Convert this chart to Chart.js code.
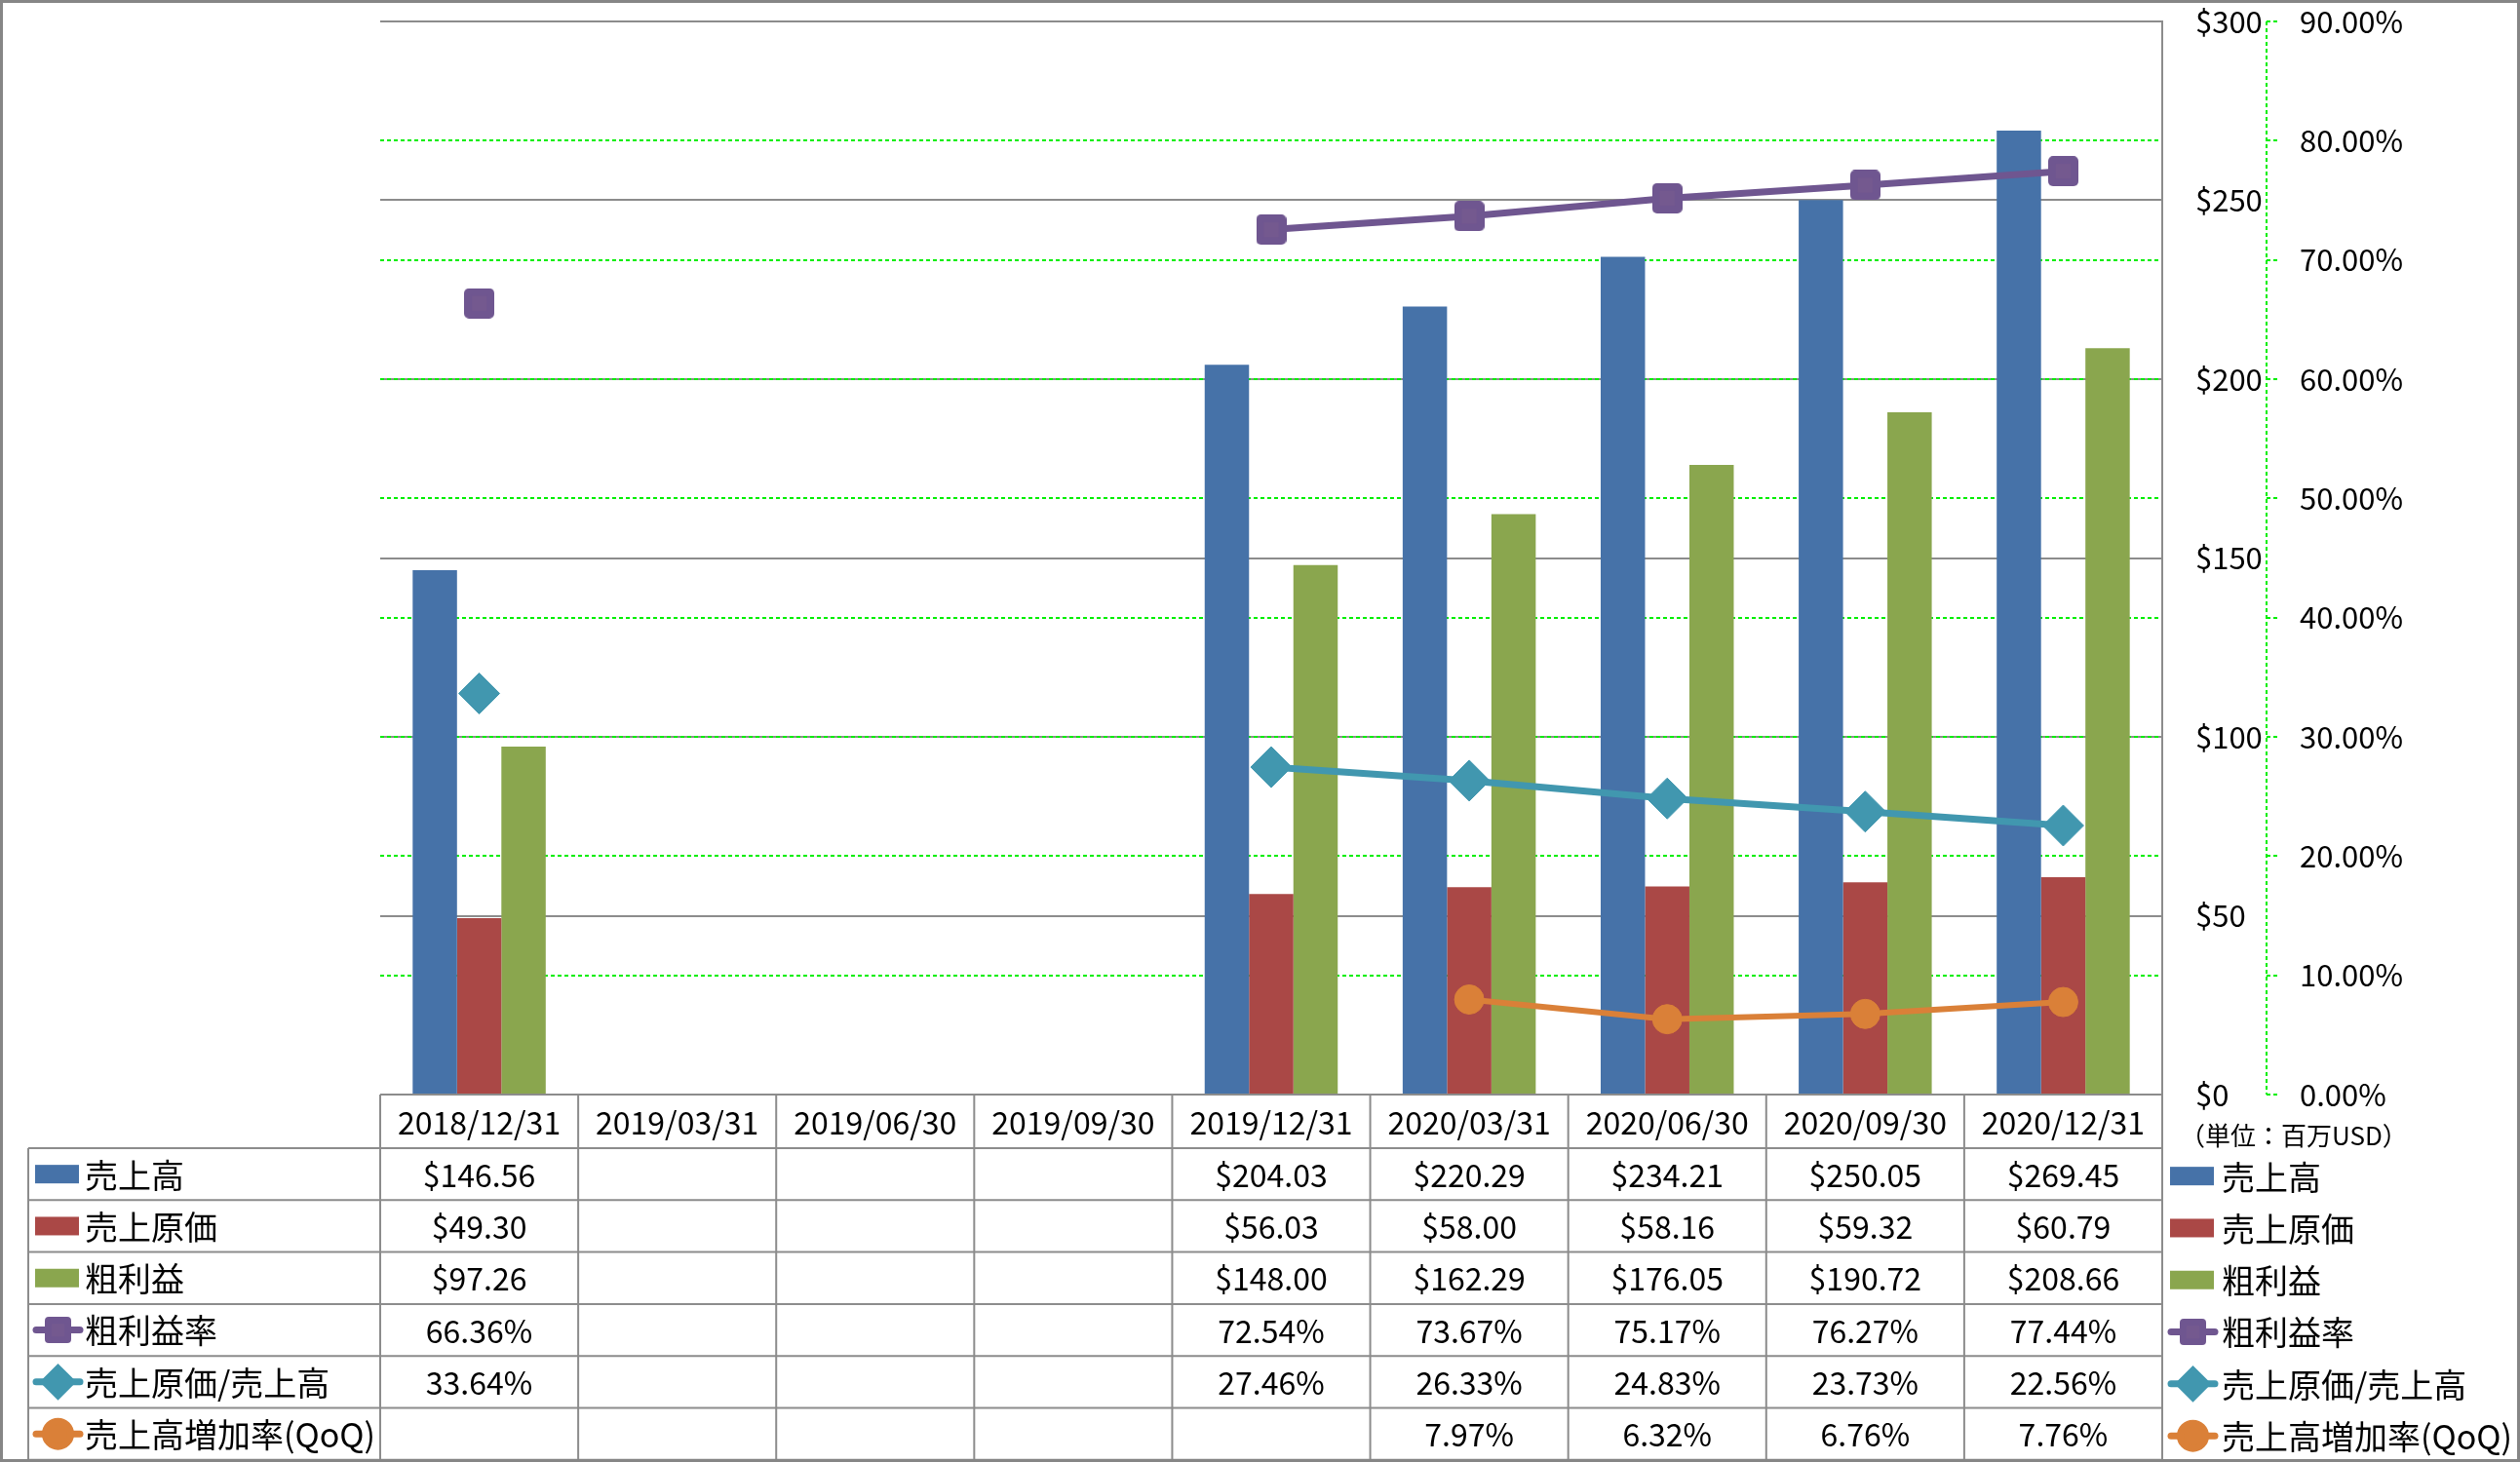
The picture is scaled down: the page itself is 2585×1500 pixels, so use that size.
<!DOCTYPE html>
<html>
<head>
<meta charset="utf-8">
<script src="https://cdn.jsdelivr.net/npm/chart.js@4/dist/chart.umd.min.js"></script>
<style>
html,body{margin:0;padding:0;background:#fff;}
#wrap{width:2585px;height:1500px;position:relative;}
</style>
</head>
<body>
<div id="wrap"><canvas id="c" width="2585" height="1500"></canvas></div>
<script>
// ---- data ----
const categories = ['2018/12/31','2019/03/31','2019/06/30','2019/09/30','2019/12/31','2020/03/31','2020/06/30','2020/09/30','2020/12/31'];
const sales       = [146.56, null, null, null, 204.03, 220.29, 234.21, 250.05, 269.45];
const cogs        = [49.30,  null, null, null, 56.03,  58.00,  58.16,  59.32,  60.79];
const grossProfit = [97.26,  null, null, null, 148.00, 162.29, 176.05, 190.72, 208.66];
const grossMargin = [66.36,  null, null, null, 72.54,  73.67,  75.17,  76.27,  77.44];
const cogsRatio   = [33.64,  null, null, null, 27.46,  26.33,  24.83,  23.73,  22.56];
const salesGrowth = [null,   null, null, null, null,   7.97,   6.32,   6.76,   7.76];
const seriesNames = ['売上高','売上原価','粗利益','粗利益率','売上原価/売上高','売上高増加率(QoQ)'];
const unitLabel = '（単位：百万USD）';
const dollarAxis = {min: 0, max: 300, step: 50};
const percentAxis = {min: 0, max: 90, step: 10};

// ---- styles ----
const FONT = '"Noto Sans CJK JP", "Noto Sans", sans-serif';
const C_BLUE = '#4672A8', C_RED = '#AA4846', C_GREEN = '#8AA64E';
const C_PURPLE = '#6F5690', C_TEAL = '#4197AF', C_ORANGE = '#DA8038';
const C_GRID = '#8c8c8c', C_LIME = '#00ee00';

function roundedSquare(size, radius, color, inner) {
  const cv = document.createElement('canvas');
  cv.width = size; cv.height = size;
  const g = cv.getContext('2d');
  g.fillStyle = color;
  g.beginPath();
  g.roundRect(0, 0, size, size, radius);
  g.fill();
  g.fillStyle = inner;
  const m = size * 0.25;
  g.fillRect(m, m, size - 2 * m, size - 2 * m);
  return cv;
}
const squareMarker = roundedSquare(31, 5, C_PURPLE, '#74598F');
const squareLegend = roundedSquare(27, 4, C_PURPLE, '#74598F');

const seriesStyles = [
  {kind:'bar', color:C_BLUE},
  {kind:'bar', color:C_RED},
  {kind:'bar', color:C_GREEN},
  {kind:'line', color:C_PURPLE, pointStyle:squareMarker, legendStyle:squareLegend, legendRadius:14},
  {kind:'line', color:C_TEAL, pointStyle:'rectRot', legendStyle:'rectRot', legendRadius:14},
  {kind:'line', color:C_ORANGE, pointStyle:'circle', legendStyle:'circle', legendRadius:13}
];
const seriesData = [sales, cogs, grossProfit, grossMargin, cogsRatio, salesGrowth];

function fmt(i, v) {
  if (v === null || v === undefined) return '';
  return i < 3 ? '$' + v.toFixed(2) : v.toFixed(2) + '%';
}

function drawKey(ctx, s, x0, y) {
  ctx.save();
  if (s.kind === 'bar') {
    ctx.fillStyle = s.color;
    ctx.fillRect(x0 + 2, y - 9.5, 45, 19);
  } else {
    ctx.strokeStyle = s.color;
    ctx.lineWidth = 7;
    ctx.lineCap = 'round';
    ctx.beginPath();
    ctx.moveTo(x0 + 3, y);
    ctx.lineTo(x0 + 48, y);
    ctx.stroke();
    ctx.fillStyle = s.color;
    ctx.strokeStyle = s.color;
    Chart.helpers.drawPoint(ctx, {pointStyle: s.legendStyle, radius: s.legendRadius, rotation: 0, borderWidth: 1}, x0 + 25.5, y);
  }
  ctx.restore();
}

const tablePlugin = {
  id: 'dataTable',
  afterDraw(chart) {
    const ctx = chart.ctx;
    const area = chart.chartArea;
    const xs = chart.scales.x;
    const n = categories.length;
    const catW = (area.right - area.left) / n;
    const top = area.bottom;
    const headerH = 55;
    const rowH = 53.3;
    const labelLeft = 29;
    const bottom = top + headerH + rowH * 6;

    ctx.save();
    ctx.strokeStyle = C_GRID;
    ctx.lineWidth = 2;
    ctx.beginPath();
    ctx.moveTo(area.left, top); ctx.lineTo(area.right, top);
    for (let r = 0; r <= 6; r++) {
      const y = top + headerH + r * rowH;
      ctx.moveTo(labelLeft, y); ctx.lineTo(area.right, y);
    }
    for (let i = 0; i <= n; i++) {
      const x = area.left + i * catW;
      ctx.moveTo(x, i === n ? area.top : top); ctx.lineTo(x, bottom);
    }
    ctx.moveTo(labelLeft, top + headerH); ctx.lineTo(labelLeft, bottom);
    ctx.stroke();

    // header
    ctx.fillStyle = '#000';
    ctx.textBaseline = 'middle';
    ctx.textAlign = 'center';
    ctx.font = '32px ' + FONT;
    categories.forEach((c, i) => {
      ctx.fillText(c, xs.getPixelForValue(i), top + headerH / 2 + 1);
    });
    // values
    seriesData.forEach((arr, si) => {
      const y = top + headerH + si * rowH + rowH / 2 + 1;
      arr.forEach((v, i) => {
        const t = fmt(si, v);
        if (t) ctx.fillText(t, xs.getPixelForValue(i), y);
      });
    });
    // row labels (left) and legend (right)
    ctx.textAlign = 'left';
    ctx.font = '34px ' + FONT;
    seriesNames.forEach((name, si) => {
      const y = top + headerH + si * rowH + rowH / 2;
      drawKey(ctx, seriesStyles[si], 34, y);
      ctx.fillStyle = '#000';
      ctx.fillText(name, 87, y + 1);
      drawKey(ctx, seriesStyles[si], 2224, y + 2);
      ctx.fillStyle = '#000';
      ctx.fillText(name, 2279, y + 3);
    });
    ctx.font = '26px ' + FONT;
    ctx.fillText(unitLabel, 2236, top + 42);

    // green dashed percent axis line
    const y1 = chart.scales.y1;
    ctx.strokeStyle = C_LIME;
    ctx.setLineDash([4, 3]);
    ctx.lineWidth = 2;
    ctx.beginPath();
    ctx.moveTo(y1.left, y1.top); ctx.lineTo(y1.left, y1.bottom);
    ctx.stroke();
    ctx.setLineDash([]);

    // outer frame
    ctx.strokeStyle = '#868686';
    ctx.lineWidth = 3;
    ctx.strokeRect(1.5, 1.5, chart.width - 3, chart.height - 3);
    ctx.restore();
  }
};

const datasets = seriesNames.map((name, si) => {
  const s = seriesStyles[si];
  if (s.kind === 'bar') {
    return {
      type: 'bar', label: name, data: seriesData[si], yAxisID: 'y', order: 2,
      backgroundColor: s.color, borderWidth: 0,
      categoryPercentage: 0.672, barPercentage: 1.0
    };
  }
  const r = si === 3 ? 17.5 : (si === 4 ? 21 : 15);
  return {
    type: 'line', label: name, data: seriesData[si], yAxisID: 'y1', order: 1,
    borderColor: s.color, backgroundColor: s.color,
    borderWidth: si === 5 ? 6 : 7, tension: 0, spanGaps: false,
    pointStyle: s.pointStyle,
    pointRadius: r, pointHoverRadius: r,
    pointBorderWidth: 1, pointBorderColor: s.color, pointBackgroundColor: s.color
  };
});

function fitAxis(width) {
  return s => { s.width = width; s.paddingTop = 0; s.paddingBottom = 0; };
}

new Chart(document.getElementById('c'), {
  data: {labels: categories, datasets},
  options: {
    responsive: false,
    animation: false,
    layout: {padding: {left: 390, top: 22, right: 120, bottom: 377}},
    plugins: {legend: {display: false}, tooltip: {enabled: false}},
    scales: {
      x: {display: false, offset: true},
      y: {
        position: 'right', min: dollarAxis.min, max: dollarAxis.max,
        ticks: {stepSize: dollarAxis.step, callback: v => '$' + v, padding: 34, color: '#000', font: {size: 31, family: FONT}},
        grid: {color: C_GRID, lineWidth: 2, drawTicks: false},
        border: {display: true, color: C_GRID, width: 2},
        afterFit: fitAxis(107)
      },
      y1: {
        position: 'right', min: percentAxis.min, max: percentAxis.max,
        ticks: {stepSize: percentAxis.step, callback: v => v.toFixed(2) + '%', padding: 22, color: '#000', font: {size: 31, family: FONT}},
        grid: {
          color: c => (c.tick && (c.tick.value === percentAxis.min || c.tick.value === percentAxis.max)) ? 'rgba(0,0,0,0)' : C_LIME,
          lineWidth: 2, tickLength: 12, tickColor: C_LIME, tickWidth: 2, tickBorderDash: [4, 3]
        },
        border: {display: false, dash: [4, 3]},
        afterFit: fitAxis(140)
      }
    }
  },
  plugins: [tablePlugin]
});
</script>
</body>
</html>
